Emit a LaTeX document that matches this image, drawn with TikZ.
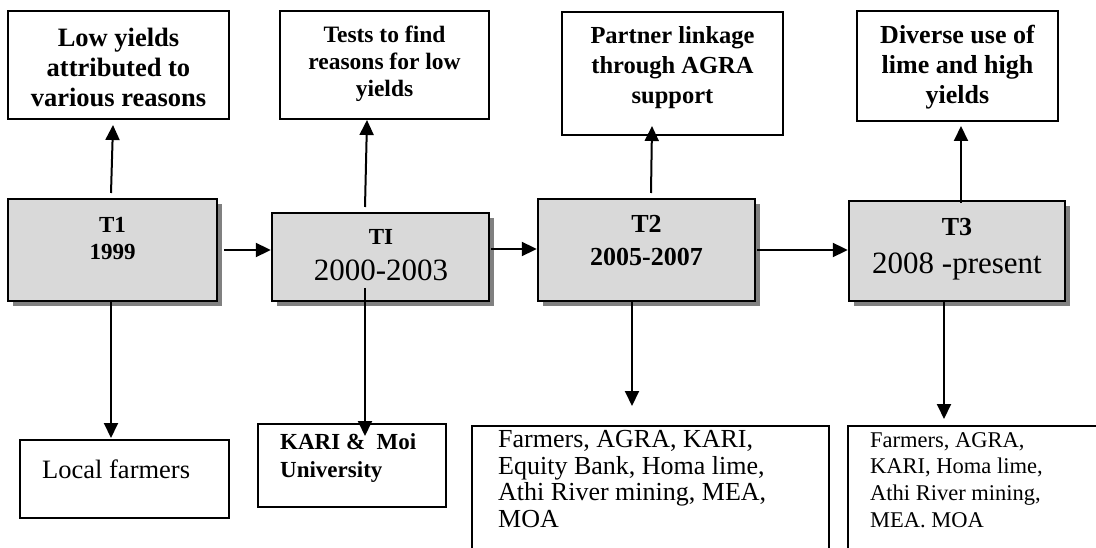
\documentclass[tikz,border=0pt]{standalone}
\usepackage{fontspec}
\setmainfont{Liberation Serif}
\usetikzlibrary{arrows.meta,shadows}
\definecolor{boxgray}{HTML}{D9D9D9}
\definecolor{shadowgray}{HTML}{808080}
\begin{document}
\begin{tikzpicture}[x=1pt,y=-1pt,
  box/.style={draw=black,line width=2.2pt,inner sep=0pt,fill=white},
  tbox/.style={draw=black,line width=2.4pt,inner sep=0pt,fill=boxgray,
    drop shadow={shadow xshift=5pt,shadow yshift=-5pt,opacity=1,fill=shadowgray}},
  txt/.style={inner sep=0pt,align=center},
  ltxt/.style={inner sep=0pt,align=left,anchor=north west},
  arr/.style={line width=2pt,-{Triangle[length=15pt,width=14pt]}},
  ]
\useasboundingbox (0,0) rectangle (1096,548);
% top boxes
\node[box,minimum width=221pt,minimum height=108pt] (A) at (118.5,65) {};
\node[txt,font=\fontsize{26.5}{30}\selectfont\bfseries] (Atx) at (118.5,67) {Low yields\\attributed to\\various reasons};
\node[box,minimum width=209pt,minimum height=108pt] (B) at (384.5,65) {};
\node[txt,font=\fontsize{23.5}{27}\selectfont\bfseries] (Btx) at (384.5,64) {Tests to find\\reasons for low\\yields};
\node[box,minimum width=221pt,minimum height=123pt] (C) at (672.5,73.5) {};
\node[txt,font=\fontsize{24.5}{30}\selectfont\bfseries] (Ctx) at (672.5,68) {Partner linkage\\through AGRA\\support};
\node[box,minimum width=201pt,minimum height=110pt] (D) at (957.5,66) {};
\node[txt,font=\fontsize{26}{30}\selectfont\bfseries] (Dtx) at (957.5,67) {Diverse use of\\lime and high\\yields};
% time boxes
\node[tbox,minimum width=209pt,minimum height=102pt] (T1) at (112.5,250) {};
\node[txt,font=\fontsize{23}{27}\selectfont\bfseries] (T1tx) at (112.5,239) {T1\\1999};
\node[tbox,minimum width=217pt,minimum height=88pt] (TI) at (380.5,257) {};
\node[txt,font=\fontsize{31}{36}\selectfont] (TItx) at (381,255) {{\fontsize{23}{27}\selectfont\bfseries TI}\\2000-2003};
\node[tbox,minimum width=217pt,minimum height=102pt] (T2) at (646.5,250) {};
\node[txt,font=\fontsize{26}{33}\selectfont\bfseries] (T2tx) at (646.5,241) {T2\\2005-2007};
\node[tbox,minimum width=216pt,minimum height=100pt] (T3) at (957,251) {};
\node[txt,font=\fontsize{31}{38}\selectfont] (T3tx) at (957,249) {{\fontsize{26}{30}\selectfont\bfseries T3}\\2008 -present};
% bottom boxes
\node[box,minimum width=209pt,minimum height=78pt] (LF) at (124.5,479) {};
\node[anchor=base west,inner sep=0pt,font=\fontsize{26.5}{30}\selectfont] (LFtx) at (42,478) {Local farmers};
\node[box,minimum width=188pt,minimum height=83pt] (K) at (352,465.5) {};
\node[ltxt,font=\fontsize{23}{28}\selectfont\bfseries] (Ktx) at (280,433.5) {KARI \&\ \ Moi\\University};
\node[box,minimum width=357pt,minimum height=160pt] (M) at (650.5,506) {};
\node[ltxt,font=\fontsize{26}{26.7}\selectfont] (Mtx) at (498,430) {Farmers, AGRA, KARI,\\Equity Bank, Homa lime,\\Athi River mining, MEA,\\MOA};
\node[box,minimum width=262pt,minimum height=160pt] (R) at (979,506) {};
\node[ltxt,font=\fontsize{22.5}{26.7}\selectfont] (Rtx) at (870,432) {Farmers, AGRA,\\KARI, Homa lime,\\Athi River mining,\\MEA. MOA};
% connectors
\coordinate (a1) at (111,193); \coordinate (a2) at (113,125);
\draw[arr] (a1) -- (a2);
\coordinate (b1) at (365,207); \coordinate (b2) at (367,120);
\draw[arr] (b1) -- (b2);
\coordinate (c1) at (651,193); \coordinate (c2) at (652,126);
\draw[arr] (c1) -- (c2);
\coordinate (d1) at (961,203); \coordinate (d2) at (961,126);
\draw[arr] (d1) -- (d2);
\draw[arr] (T1.south -| a1) -- (111,438);
\coordinate (e1) at (365,288);
\draw[arr] (e1) -- (365,436);
\draw[arr] (T2.south -| 632,0) -- (632,406);
\draw[arr] (T3.south -| 944,0) -- (944,419);
\draw[arr] ([xshift=6pt]T1.east) -- (T1.east -| TI.west);
\draw[arr] ([xshift=1pt]TI.east |- 0,249) -- (T2.west |- 0,249);
\draw[arr] ([xshift=1pt]T2.east) -- (T2.east -| T3.west);
\end{tikzpicture}
\end{document}
